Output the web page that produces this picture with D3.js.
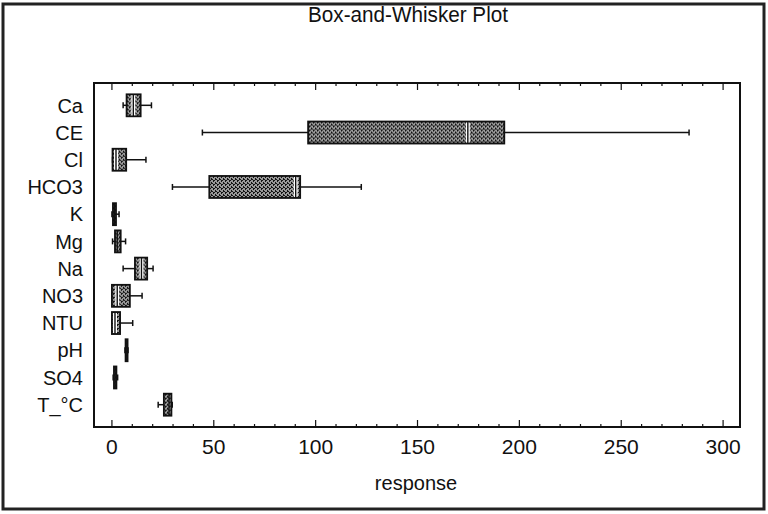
<!DOCTYPE html>
<html>
<head>
<meta charset="utf-8">
<script src="https://cdn.jsdelivr.net/npm/d3@7"></script>
<style>
  body { margin: 0; background: #fff; }
  text { font-family: "Liberation Sans", Arial, sans-serif; fill: #111; }
</style>
</head>
<body>
<svg id="chart" width="768" height="514"></svg>
<script>
// variables, top to bottom
var categories = ["Ca", "CE", "Cl", "HCO3", "K", "Mg", "Na", "NO3", "NTU", "pH", "SO4", "T_°C"];
// five numbers per variable
var mins    = [5.5,  44.4, 0.3, 29.7, 0,   0.3, 5.5,  0,   0,    6.4, 0.6, 22.7];
var q1s     = [7.2,  96.3, 0.3, 47.8, 0.5, 1.5, 11.3, 0,   0,    6.7, 1.0, 25.5];
var medians = [10.5, 174.7, 2,  90.2, 1.2, 2.6, 14.5, 2.6, 1.5,  7.0, 1.6, 28.0];
var q3s     = [14.1, 192.6, 7,  92.4, 2.0, 4.3, 17.3, 8.8, 4.0,  7.3, 2.2, 29.2];
var maxs    = [19.4, 283.3, 16.7, 122.4, 3.5, 6.7, 20.2, 14.8, 10.2, 7.9, 2.8, 29.6];
var xTicks = [0, 50, 100, 150, 200, 250, 300];

main();

function main() {
    var pLeft = 94, pRight = 740, pTop = 83, pBottom = 427;

    var svg = d3.select("#chart");

    // speckled fill, like the photocopied grey of the original
    var pat = svg.append("defs").append("pattern")
        .attr("id", "speckle")
        .attr("patternUnits", "userSpaceOnUse")
        .attr("width", 4).attr("height", 4);
    pat.append("rect").attr("width", 4).attr("height", 4).attr("fill", "#9a9a9a");
    [[0, 0], [2, 1], [1, 2], [3, 3], [3, 0], [1, 1]].forEach(function(p) {
        pat.append("rect").attr("x", p[0]).attr("y", p[1])
            .attr("width", 1).attr("height", 1).attr("fill", "#111");
    });

    // scanned page border
    svg.append("rect")
        .attr("x", 3).attr("y", 4)
        .attr("width", 761).attr("height", 505)
        .attr("fill", "none").attr("stroke", "#222").attr("stroke-width", 3);

    var x = d3.scaleLinear().domain([-8.8, 308.3]).range([pLeft, pRight]);
    var y = d3.scalePoint().domain(categories).range([pTop, pBottom]).padding(0.82);

    var rows = categories.map(function(c, i) {
        return {name: c, min: mins[i], q1: q1s[i], med: medians[i], q3: q3s[i], max: maxs[i]};
    });

    // frame
    svg.append("rect")
        .attr("x", pLeft).attr("y", pTop)
        .attr("width", pRight - pLeft).attr("height", pBottom - pTop)
        .attr("fill", "none").attr("stroke", "#111").attr("stroke-width", 2);

    // inward ticks, top and bottom (minor every 10)
    var minor = d3.range(0, 301, 10);
    var tickG = svg.append("g");
    tickG.selectAll(".tb").data(minor).enter().append("line")
        .attr("x1", function(d) { return x(d); })
        .attr("x2", function(d) { return x(d); })
        .attr("y1", pBottom)
        .attr("y2", function(d) { return pBottom - (d % 50 === 0 ? 7 : 3); })
        .attr("stroke", "#111").attr("stroke-width", 1.2);
    tickG.selectAll(".tt").data(minor).enter().append("line")
        .attr("x1", function(d) { return x(d); })
        .attr("x2", function(d) { return x(d); })
        .attr("y1", pTop)
        .attr("y2", function(d) { return pTop + (d % 50 === 0 ? 7 : 3); })
        .attr("stroke", "#111").attr("stroke-width", 1.2);

    // tick labels
    svg.append("g").selectAll("text").data(xTicks).enter().append("text")
        .attr("x", function(d) { return x(d); })
        .attr("y", 454)
        .attr("text-anchor", "middle")
        .attr("font-size", 21)
        .text(function(d) { return d; });

    // category labels
    svg.append("g").selectAll("text").data(categories).enter().append("text")
        .attr("x", 83)
        .attr("y", function(d) { return y(d); })
        .attr("dy", "0.36em")
        .attr("text-anchor", "end")
        .attr("font-size", 20)
        .text(function(d) { return d; });

    // title (narrow face in the scan) and axis label
    svg.append("text")
        .attr("x", 408).attr("y", 22)
        .attr("text-anchor", "middle")
        .attr("font-size", 22)
        .attr("textLength", 200)
        .attr("lengthAdjust", "spacingAndGlyphs")
        .text("Box-and-Whisker Plot");

    svg.append("text")
        .attr("x", 416).attr("y", 490)
        .attr("text-anchor", "middle")
        .attr("font-size", 20)
        .text("response");

    // boxes
    var bh = 22;
    var g = svg.append("g").selectAll("g").data(rows).enter().append("g")
        .attr("transform", function(d) { return "translate(0," + y(d.name) + ")"; });

    // whiskers
    g.append("line")
        .attr("x1", function(d) { return x(d.min); })
        .attr("x2", function(d) { return x(d.q1); })
        .attr("stroke", "#111").attr("stroke-width", 1.5);
    g.append("line")
        .attr("x1", function(d) { return x(d.q3); })
        .attr("x2", function(d) { return x(d.max); })
        .attr("stroke", "#111").attr("stroke-width", 1.5);
    // whisker caps
    g.append("line")
        .attr("x1", function(d) { return x(d.min); })
        .attr("x2", function(d) { return x(d.min); })
        .attr("y1", -3).attr("y2", 3)
        .attr("stroke", "#111").attr("stroke-width", 1.5);
    g.append("line")
        .attr("x1", function(d) { return x(d.max); })
        .attr("x2", function(d) { return x(d.max); })
        .attr("y1", -3).attr("y2", 3)
        .attr("stroke", "#111").attr("stroke-width", 1.5);

    g.append("rect")
        .attr("x", function(d) { return x(d.q1); })
        .attr("y", -bh / 2)
        .attr("width", function(d) { return Math.max(x(d.q3) - x(d.q1), 2); })
        .attr("height", bh)
        .attr("fill", "url(#speckle)")
        .attr("stroke", "#111").attr("stroke-width", 1.8);

    // median: white gap with a thin dark line in it (only where the box is wide enough)
    g.filter(function(d) { return x(d.q3) - x(d.q1) > 8; })
        .append("line")
        .attr("x1", function(d) { return x(d.med); })
        .attr("x2", function(d) { return x(d.med); })
        .attr("y1", -bh / 2 + 1).attr("y2", bh / 2 - 1)
        .attr("stroke", "#fff").attr("stroke-width", 4);
    g.append("line")
        .attr("x1", function(d) { return x(d.med); })
        .attr("x2", function(d) { return x(d.med); })
        .attr("y1", -bh / 2).attr("y2", bh / 2)
        .attr("stroke", "#111").attr("stroke-width", 1.4);
}
</script>
</body>
</html>
